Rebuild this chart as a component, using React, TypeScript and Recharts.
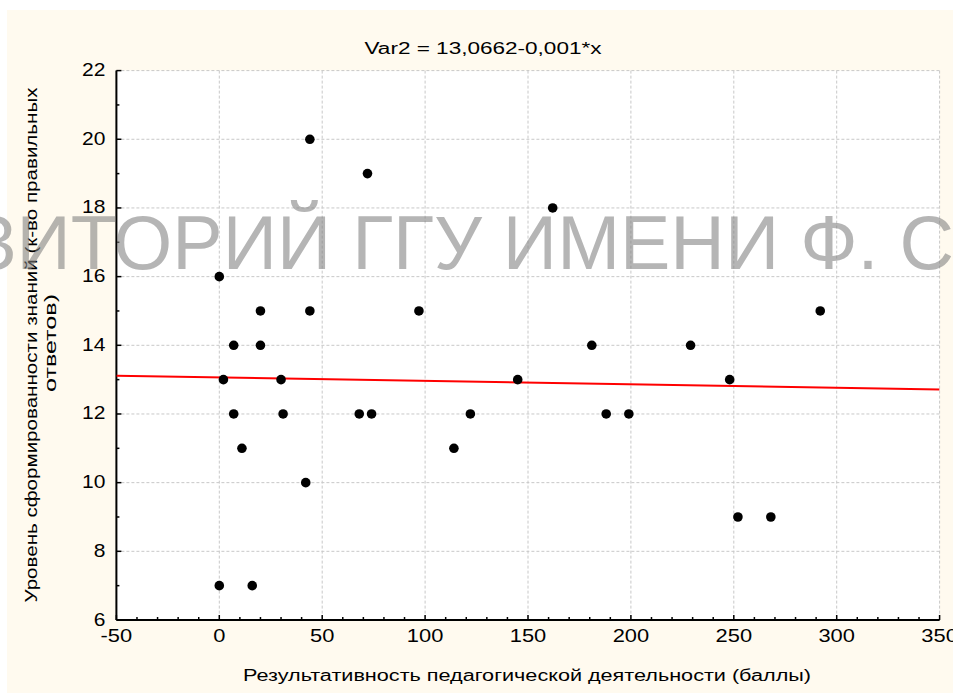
import React from 'react';
import { ScatterChart, Scatter, XAxis, YAxis, CartesianGrid } from 'recharts';

// ---- data ----
const pointsX = [0, 0, 2, 7, 7, 11, 16, 20, 20, 30, 31, 42, 44, 44, 72, 68, 74, 97, 114, 122, 145, 162, 181, 188, 199, 229, 248, 252, 268, 292];
const pointsY = [16, 7, 13, 14, 12, 11, 7, 15, 14, 13, 12, 10, 20, 15, 19, 12, 12, 15, 11, 12, 13, 18, 14, 12, 12, 14, 13, 9, 9, 15];
const points = pointsX.map((x, i) => ({ x, y: pointsY[i] }));

const regLine = [
  { x: -50, y: 13.1162 },
  { x: 350, y: 12.7162 },
];

const xMajor = [-50, 0, 50, 100, 150, 200, 250, 300, 350];
const xTicks = [-50, -40, -30, -20, -10, 0, 10, 20, 30, 40, 50, 60, 70, 80, 90, 100, 110, 120, 130, 140, 150, 160, 170, 180, 190, 200, 210, 220, 230, 240, 250, 260, 270, 280, 290, 300, 310, 320, 330, 340, 350];
const yMajor = [6, 8, 10, 12, 14, 16, 18, 20, 22];
const yTicks = [6, 7, 8, 9, 10, 11, 12, 13, 14, 15, 16, 17, 18, 19, 20, 21, 22];

const title = 'Var2 = 13,0662-0,001*x';
const xLabel = 'Результативность педагогической деятельности (баллы)';
const yLabel1 = 'Уровень сформированности знаний (к-во правильных';
const yLabel2 = 'ответов)';
const watermark = 'ЗИТОРИЙ ГГУ ИМЕНИ Ф. С';

const FONT = '"Liberation Sans", Arial, sans-serif';
const MAJ = 5;
const MIN = 3;

function BottomTick(p: any) {
  const { x, y, payload } = p;
  const v = payload.value;
  const major = xMajor.includes(v);
  return (
    <g>
      <line x1={x} x2={x} y1={y} y2={y - (major ? MAJ : MIN)} stroke="#000" strokeWidth={1.5} />
      {major && (
        <g transform={`translate(${x},${y + 21.7}) scale(1.25,1)`}>
          <text x={0} y={0} textAnchor="middle" fontSize={17.5} fontFamily={FONT} fill="#000">{v}</text>
        </g>
      )}
    </g>
  );
}

function TopTick(p: any) {
  const { x, y, payload } = p;
  const major = xMajor.includes(payload.value);
  return <line x1={x} x2={x} y1={y} y2={y + (major ? MAJ : MIN)} stroke="#000" strokeWidth={1.5} />;
}

function LeftTick(p: any) {
  const { x, y, payload } = p;
  const v = payload.value;
  const major = yMajor.includes(v);
  return (
    <g>
      <line x1={x} x2={x + (major ? MAJ : MIN)} y1={y} y2={y} stroke="#000" strokeWidth={1.5} />
      {major && (
        <g transform={`translate(${x - 11},${y + 5.5}) scale(1.2,1)`}>
          <text x={0} y={0} textAnchor="end" fontSize={17.5} fontFamily={FONT} fill="#000">{v}</text>
        </g>
      )}
    </g>
  );
}

function RightTick(p: any) {
  const { x, y, payload } = p;
  const major = yMajor.includes(payload.value);
  return <line x1={x} x2={x - (major ? MAJ : MIN)} y1={y} y2={y} stroke="#000" strokeWidth={1.5} />;
}

const Dot = (p: any) => <circle cx={p.cx} cy={p.cy} r={4.8} fill="#000" />;
const NoShape = () => <g />;

export default function App() {
  return (
    <div style={{ position: 'absolute', left: 0, top: 0, width: 953, height: 693, background: '#fff', overflow: 'hidden' }}>
      <div style={{ position: 'absolute', left: 7, top: 10, right: 0, bottom: 0, background: '#fffaef' }} />
      <div style={{ position: 'absolute', left: 0, top: 0 }}>
        <ScatterChart width={953} height={693} margin={{ top: 70.6, right: 13.4, bottom: 43, left: 56.4 }}>
          <CartesianGrid
            fill="#ffffff"
            stroke="#c8c8c8"
            strokeDasharray="3 2"
            verticalValues={xMajor}
            horizontalValues={yMajor}
          />
          <XAxis
            dataKey="x"
            type="number"
            domain={[-50, 350]}
            allowDataOverflow
            ticks={xTicks}
            interval={0}
            tickSize={0}
            tickMargin={0}
            tickLine={false}
            height={30}
            axisLine={{ stroke: '#000', strokeWidth: 2 }}
            tick={(p: any) => <BottomTick {...p} />}
          />
          <XAxis
            xAxisId="top"
            orientation="top"
            type="number"
            domain={[-50, 350]}
            allowDataOverflow
            ticks={xTicks}
            interval={0}
            tickSize={0}
            tickMargin={0}
            tickLine={false}
            height={0}
            axisLine={{ stroke: '#000', strokeWidth: 2 }}
            tick={(p: any) => <TopTick {...p} />}
          />
          <YAxis
            dataKey="y"
            type="number"
            domain={[6, 22]}
            allowDataOverflow
            ticks={yTicks}
            interval={0}
            tickSize={0}
            tickMargin={0}
            tickLine={false}
            width={60}
            axisLine={{ stroke: '#000', strokeWidth: 2 }}
            tick={(p: any) => <LeftTick {...p} />}
          />
          <YAxis
            yAxisId="right"
            orientation="right"
            type="number"
            domain={[6, 22]}
            allowDataOverflow
            ticks={yTicks}
            interval={0}
            tickSize={0}
            tickMargin={0}
            tickLine={false}
            width={0}
            axisLine={{ stroke: '#000', strokeWidth: 2 }}
            tick={(p: any) => <RightTick {...p} />}
          />
          <Scatter
            data={regLine}
            line={{ stroke: '#ff0000', strokeWidth: 2 }}
            shape={NoShape}
            isAnimationActive={false}
          />
          <Scatter data={points} shape={Dot} isAnimationActive={false} />
        </ScatterChart>
      </div>
      <svg width={953} height={693} style={{ position: 'absolute', left: 0, top: 0, pointerEvents: 'none' }}>
        <text x={483} y={54.3} textAnchor="middle" fontSize={16} fontFamily={FONT} fill="#000" textLength={237} lengthAdjust="spacingAndGlyphs">{title}</text>
        <text x={527} y={680.7} textAnchor="middle" fontSize={16} fontFamily={FONT} fill="#000" textLength={568} lengthAdjust="spacingAndGlyphs">{xLabel}</text>
        <text transform="translate(37,345) rotate(-90)" x={0} y={0} textAnchor="middle" fontSize={16} fontFamily={FONT} fill="#000" textLength={515} lengthAdjust="spacingAndGlyphs">{yLabel1}</text>
        <text transform="translate(56,343) rotate(-90)" x={0} y={0} textAnchor="middle" fontSize={16} fontFamily={FONT} fill="#000" textLength={98} lengthAdjust="spacingAndGlyphs">{yLabel2}</text>
        <text x={-29} y={269.3} fontSize={76} fontFamily={FONT} fill="#808080" fillOpacity={0.58} textLength={983} lengthAdjust="spacingAndGlyphs">{watermark}</text>
      </svg>
    </div>
  );
}
